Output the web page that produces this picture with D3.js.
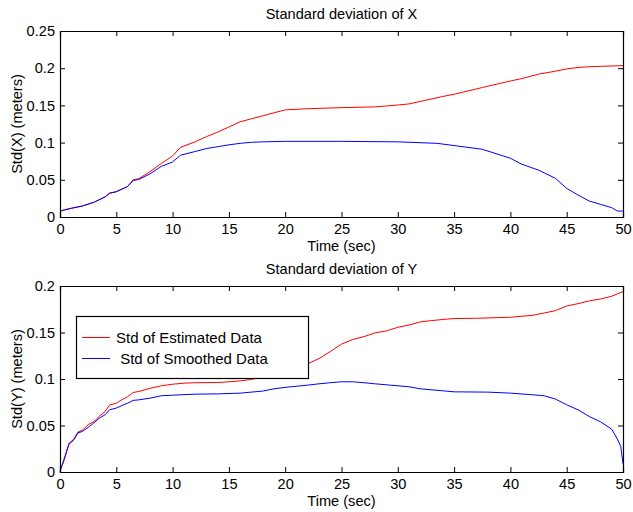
<!DOCTYPE html>
<html>
<head>
<meta charset="utf-8">
<script src="https://cdn.jsdelivr.net/npm/d3@7"></script>
<style>
  body { margin: 0; background: #fff; }
  svg text { font-family: "Liberation Sans", Arial, Helvetica, sans-serif; fill: #000; }
</style>
</head>
<body>
<div id="chart"></div>
<script>
// time stamps (sec) and std values
const timeXEst = [0, 1, 2, 3, 4, 4.4, 5, 6, 6.5, 7, 8, 9, 10, 10.7, 12, 13, 14, 15, 16, 17, 18, 19, 20, 22, 25, 28, 30, 31, 32.5, 34, 35, 37.5, 40, 41, 42.5, 44, 45, 46, 47, 48, 50];
const stdXEst = [0.008, 0.0117, 0.0148, 0.0197, 0.027, 0.032, 0.034, 0.041, 0.050, 0.0515, 0.061, 0.072, 0.082, 0.0936, 0.101, 0.108, 0.114, 0.121, 0.128, 0.132, 0.136, 0.140, 0.144, 0.1455, 0.147, 0.148, 0.1505, 0.152, 0.157, 0.162, 0.165, 0.174, 0.1828, 0.186, 0.192, 0.196, 0.199, 0.201, 0.202, 0.2025, 0.2034];

const timeXSm = [0, 1, 2, 3, 4, 4.4, 5, 6, 6.5, 7, 8, 9, 10, 10.7, 12, 13, 14, 15, 16, 17, 18, 20, 25, 30, 33.5, 35, 37.5, 40, 41, 42.5, 44, 45, 46, 47, 48, 49, 49.5, 50];
const stdXSm = [0.008, 0.0117, 0.0148, 0.0197, 0.027, 0.032, 0.034, 0.041, 0.049, 0.0505, 0.058, 0.068, 0.074, 0.083, 0.088, 0.092, 0.0945, 0.097, 0.099, 0.1004, 0.101, 0.1017, 0.1017, 0.101, 0.099, 0.096, 0.091, 0.079, 0.071, 0.063, 0.052, 0.0385, 0.0296, 0.0215, 0.017, 0.0125, 0.008, 0.008];

const timeYEst = [0, 0.3, 0.8, 1.2, 1.6, 2, 2.5, 3, 3.5, 4, 4.4, 5, 5.5, 6, 6.5, 7, 8, 9, 10, 11, 12, 14, 15, 16, 17, 18, 19, 20, 21, 22, 23, 24, 25, 26, 27, 28, 29, 30, 31, 32, 33, 34, 35, 37, 40, 42, 43, 44, 45, 46, 47, 48, 49, 50];
const stdYEst = [0.0025, 0.01, 0.031, 0.035, 0.043, 0.045, 0.051, 0.054, 0.060, 0.065, 0.072, 0.074, 0.0777, 0.081, 0.0855, 0.0866, 0.090, 0.0927, 0.0944, 0.0955, 0.096, 0.0962, 0.097, 0.098, 0.0995, 0.1023, 0.1062, 0.1098, 0.114, 0.1163, 0.122, 0.1295, 0.1375, 0.1425, 0.1456, 0.1496, 0.1517, 0.1556, 0.158, 0.1614, 0.1628, 0.164, 0.165, 0.1653, 0.1664, 0.1685, 0.171, 0.1735, 0.1785, 0.181, 0.184, 0.186, 0.189, 0.194];

const timeYSm = [0, 0.8, 1.2, 1.6, 2, 2.5, 3, 3.5, 4, 4.4, 5, 5.5, 6, 6.5, 7, 8, 9, 10, 12, 14, 16, 17, 18, 19, 20, 22, 23, 24, 25, 26, 27, 28, 30, 31, 32, 34, 35, 38, 40, 42, 43, 44, 45, 46, 47, 48, 49, 49.5, 49.8, 50];
const stdYSm = [0.0006, 0.030, 0.034, 0.042, 0.0437, 0.048, 0.0526, 0.058, 0.0615, 0.0669, 0.0687, 0.0715, 0.074, 0.077, 0.0776, 0.0794, 0.082, 0.0826, 0.0837, 0.084, 0.0848, 0.0859, 0.087, 0.0894, 0.091, 0.0934, 0.0948, 0.096, 0.097, 0.097, 0.096, 0.0948, 0.0927, 0.0916, 0.0894, 0.0873, 0.0862, 0.0859, 0.0848, 0.083, 0.082, 0.0784, 0.0723, 0.0669, 0.0597, 0.054, 0.046, 0.0354, 0.0276, 0.009];

const xTicks = [0, 5, 10, 15, 20, 25, 30, 35, 40, 45, 50];
const yTicksX = [0, 0.05, 0.1, 0.15, 0.2, 0.25];
const yTicksY = [0, 0.05, 0.1, 0.15, 0.2];
const legendLabels = ['Std of Estimated Data', ' Std of Smoothed Data'];

const width = 633, height = 512;
const left = 60, right = 623;

const svg = d3.select('#chart')
    .append('svg')
    .attr('width', width)
    .attr('height', height)
    .style('display', 'block');

function drawPanel(top, bottom, yMax, yTicks, title, ylabel, est, sm) {
    const x = d3.scaleLinear().domain([0, 50]).range([left, right]);
    const y = d3.scaleLinear().domain([0, yMax]).range([bottom, top]);
    const g = svg.append('g');

    const line = d3.line()
        .x(d => x(d[0]))
        .y(d => y(d[1]));

    g.append('path')
        .datum(est[0].map((t, i) => [t, est[1][i]]))
        .attr('d', line)
        .attr('fill', 'none')
        .attr('stroke', '#ff0000')
        .attr('stroke-width', 1);

    g.append('path')
        .datum(sm[0].map((t, i) => [t, sm[1][i]]))
        .attr('d', line)
        .attr('fill', 'none')
        .attr('stroke', '#0000ff')
        .attr('stroke-width', 1);

    // axes, ticks pointing inward on all four sides
    const fmt = d => String(+d.toFixed(2));
    const bottomAxis = d3.axisBottom(x).tickValues(xTicks).tickSize(-5).tickPadding(7).tickFormat(fmt);
    const topAxis = d3.axisTop(x).tickValues(xTicks).tickSize(-5).tickFormat('');
    const leftAxis = d3.axisLeft(y).tickValues(yTicks).tickSize(-5).tickPadding(5).tickFormat(fmt);
    const rightAxis = d3.axisRight(y).tickValues(yTicks).tickSize(-5).tickFormat('');

    const axes = [
        [bottomAxis, `translate(0,${bottom})`],
        [topAxis, `translate(0,${top})`],
        [leftAxis, `translate(${left},0)`],
        [rightAxis, `translate(${right},0)`]
    ];
    axes.forEach(([ax, tr]) => {
        const a = g.append('g').attr('transform', tr).call(ax);
        a.select('.domain').attr('stroke', '#000').attr('stroke-width', 1.2);
        a.selectAll('.tick line').attr('stroke', '#000');
        a.selectAll('.tick text')
            .style('font-size', '14.6px')
            .attr('fill', '#000');
    });

    g.append('text')
        .attr('x', (left + right) / 2)
        .attr('y', top - 12)
        .attr('text-anchor', 'middle')
        .style('font-size', '14.6px')
        .text(title);

    g.append('text')
        .attr('x', (left + right) / 2)
        .attr('y', bottom + 34)
        .attr('text-anchor', 'middle')
        .style('font-size', '14.6px')
        .text('Time (sec)');

    g.append('text')
        .attr('transform', `translate(22,${(top + bottom) / 2}) rotate(-90)`)
        .attr('text-anchor', 'middle')
        .style('font-size', '14.6px')
        .text(ylabel);
}

drawPanel(31, 217, 0.25, yTicksX, 'Standard deviation of X', 'Std(X) (meters)',
    [timeXEst, stdXEst], [timeXSm, stdXSm]);
drawPanel(286, 472, 0.2, yTicksY, 'Standard deviation of Y', 'Std(Y) (meters)',
    [timeYEst, stdYEst], [timeYSm, stdYSm]);

// legend in the lower panel
const legend = svg.append('g');
legend.append('rect')
    .attr('x', 76.5)
    .attr('y', 316.5)
    .attr('width', 232)
    .attr('height', 62)
    .attr('fill', '#fff')
    .attr('stroke', '#000')
    .attr('stroke-width', 1.2);

const legendColors = ['#ff0000', '#0000ff'];
legendLabels.forEach((lab, i) => {
    const cy = 337.5 + i * 21;
    legend.append('line')
        .attr('x1', 82).attr('x2', 110)
        .attr('y1', cy).attr('y2', cy)
        .attr('stroke', legendColors[i])
        .attr('stroke-width', 1);
    legend.append('text')
        .attr('x', 116)
        .attr('y', cy + 5)
        .style('font-size', '15px')
        .style('white-space', 'pre')
        .text(lab);
});
</script>
</body>
</html>
